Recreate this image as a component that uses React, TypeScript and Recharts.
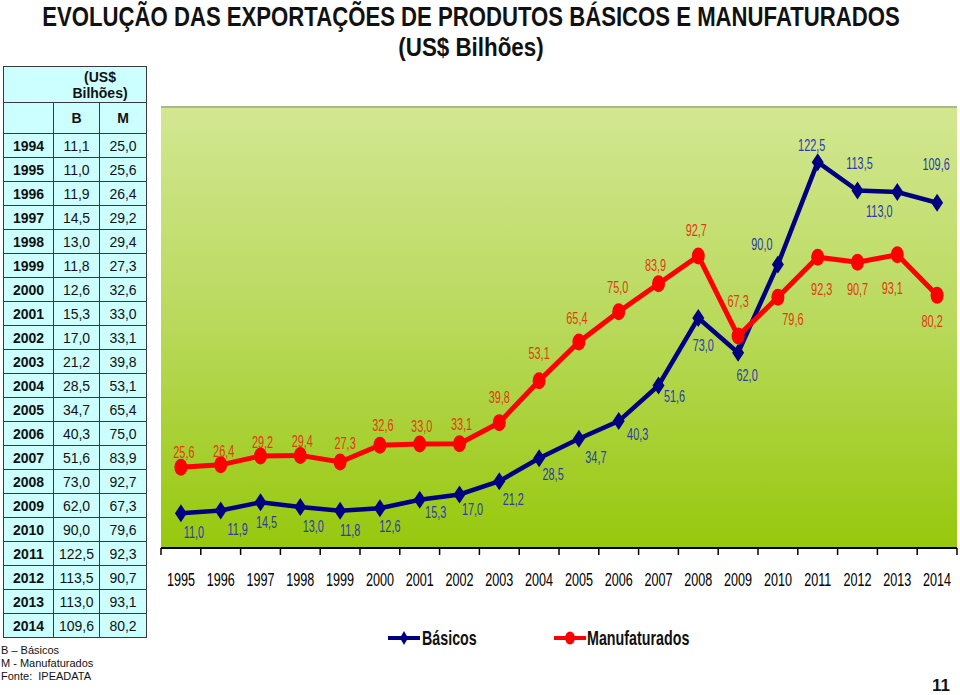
import React from "react";
import { CartesianGrid, LabelList, Line, LineChart, ReferenceLine, XAxis, YAxis } from "recharts";

// tabela completa (1994-2014); o gráfico usa 1995-2014
const tableYears = ["1994", "1995", "1996", "1997", "1998", "1999", "2000", "2001", "2002", "2003", "2004", "2005", "2006", "2007", "2008", "2009", "2010", "2011", "2012", "2013", "2014"];
const basicos = [11.1, 11.0, 11.9, 14.5, 13.0, 11.8, 12.6, 15.3, 17.0, 21.2, 28.5, 34.7, 40.3, 51.6, 73.0, 62.0, 90.0, 122.5, 113.5, 113.0, 109.6];
const manufaturados = [25.0, 25.6, 26.4, 29.2, 29.4, 27.3, 32.6, 33.0, 33.1, 39.8, 53.1, 65.4, 75.0, 83.9, 92.7, 67.3, 79.6, 92.3, 90.7, 93.1, 80.2];

// deslocamento dos rótulos (dx, dy) em relação ao ponto
const basicosLabelOffset = [[13, 19], [17, 19], [6, 20], [13, 19], [10, 19], [10, 18], [16, 12], [13, 15], [14, 18], [14, 16], [17, 18], [19, 13], [16, 11], [5, 27], [9, 22], [-16, -20], [-6, -17], [2, -27], [-18, 19], [-1, -39]];
const manufLabelOffset = [[3, -15], [3, -14], [2, -14], [2, -14], [5, -19], [3, -20], [2, -18], [2, -20], [0, -26], [0, -28], [-2, -24], [-1, -25], [-3, -19], [-2, -26], [0, -35], [15, 22], [4, 32], [0, 27], [-5, 33], [-5, 26]];

const chartYears = tableYears.slice(1);
const chartData = chartYears.map((year, i) => ({
  idx: i,
  year,
  basicos: basicos[i + 1],
  manufaturados: manufaturados[i + 1]
}));

const boundaryTicks = [-0.5, ...chartYears.map((_, i) => i + 0.5)];
const centerTicks = chartYears.map((_, i) => i);

const NARROW = '"Liberation Sans Narrow", "Arial Narrow", "Liberation Sans", Arial, sans-serif';
const SANS = '"Liberation Sans", Arial, sans-serif';
const BLUE = "#000080";
const RED = "#ff0000";

const fmt = (v: number) => v.toFixed(1).replace(".", ",");

const Diamond = (props: any) => {
  const { cx, cy } = props;
  if (cx == null || cy == null) return null;
  return <polygon fill={BLUE} points={`${cx},${cy - 9} ${cx + 6},${cy} ${cx},${cy + 9} ${cx - 6},${cy}`} />;
};

const Blob = (props: any) => {
  const { cx, cy } = props;
  if (cx == null || cy == null) return null;
  return <ellipse cx={cx} cy={cy} fill={RED} rx={6.5} ry={8.5} />;
};

const makeLabel = (offsets: number[][], color: string) => (props: any) => {
  const { x, y, value, index } = props;
  if (x == null || y == null) return null;
  const [dx, dy] = offsets[index] || [0, -15];
  return (
    <text
      dominantBaseline="central"
      fill={color}
      fontFamily={NARROW}
      fontSize={17}
      textAnchor="middle"
      transform={`translate(${x + dx},${y + dy}) scale(0.64,1)`}
    >
      {fmt(value)}
    </text>
  );
};

const YearTick = (props: any) => {
  const { x, y, payload } = props;
  return (
    <text
      fill="#000"
      fontFamily={NARROW}
      fontSize={18}
      textAnchor="middle"
      transform={`translate(${x},${y}) scale(0.7,1)`}
      y={22}
    >
      {chartYears[payload.value]}
    </text>
  );
};

const EmptyTick = () => <g />;

const cell: React.CSSProperties = {
  border: "1px solid #3a3a3a",
  padding: 0,
  textAlign: "center",
  height: 23
};

const App: React.FC = () => {
  return (
    <div
      style={{
        position: "absolute",
        left: 0,
        top: 0,
        width: 960,
        height: 695,
        background: "#fff",
        overflow: "hidden"
      }}
    >
      <div
        style={{
          position: "absolute",
          left: 471,
          top: 2,
          fontFamily: NARROW,
          fontWeight: "bold",
          fontSize: 27,
          lineHeight: "30px",
          color: "#111",
          whiteSpace: "nowrap",
          transform: "translateX(-50%) scale(0.82,1)"
        }}
      >
        EVOLUÇÃO DAS EXPORTAÇÕES DE PRODUTOS BÁSICOS E MANUFATURADOS
      </div>
      <div
        style={{
          position: "absolute",
          left: 471,
          top: 32,
          fontFamily: NARROW,
          fontWeight: "bold",
          fontSize: 26,
          lineHeight: "30px",
          color: "#111",
          whiteSpace: "nowrap",
          transform: "translateX(-50%) scale(0.86,1)"
        }}
      >
        (US$ Bilhões)
      </div>

      <table
        style={{
          position: "absolute",
          left: 3,
          top: 66,
          borderCollapse: "collapse",
          background: "#ccffff",
          fontFamily: SANS,
          fontSize: 14,
          color: "#111"
        }}
      >
        <tbody>
          <tr>
            <td colSpan={3} style={{ ...cell, height: 35, paddingLeft: 50, fontWeight: "bold", lineHeight: "16px" }}>
              (US$
              <br />
              Bilhões)
            </td>
          </tr>
          <tr>
            <td style={{ ...cell, width: 49, height: 30 }} />
            <td style={{ ...cell, width: 45, height: 30, fontWeight: "bold" }}>B</td>
            <td style={{ ...cell, width: 46, height: 30, fontWeight: "bold" }}>M</td>
          </tr>
          {tableYears.map((year, i) => (
            <tr key={year}>
              <td style={{ ...cell, fontWeight: "bold" }}>{year}</td>
              <td style={cell}>{fmt(basicos[i])}</td>
              <td style={cell}>{fmt(manufaturados[i])}</td>
            </tr>
          ))}
        </tbody>
      </table>

      <div
        style={{
          position: "absolute",
          left: 1,
          top: 644,
          fontFamily: SANS,
          fontSize: 11,
          lineHeight: "13px",
          color: "#111"
        }}
      >
        <div>B – Básicos</div>
        <div>M - Manufaturados</div>
        <div>Fonte:&nbsp; IPEADATA</div>
      </div>

      <div style={{ position: "absolute", left: 0, top: 0 }}>
        <LineChart
          data={chartData}
          height={695}
          margin={{ top: 107, right: 3, bottom: 99, left: 161 }}
          width={960}
        >
          <defs>
            <linearGradient id="bg" x1="0" x2="0" y1="0" y2="1">
              <stop offset="0%" stopColor="#d3e792" />
              <stop offset="50%" stopColor="#b8d95a" />
              <stop offset="100%" stopColor="#97c80c" />
            </linearGradient>
          </defs>
          <CartesianGrid fill="url(#bg)" fillOpacity={1} horizontal={false} vertical={false} xAxisId="axis1" />
          <XAxis
            allowDataOverflow
            axisLine={{ stroke: "#000", strokeWidth: 2 }}
            dataKey="idx"
            domain={[-0.5, 19.5]}
            height={8}
            interval={0}
            tick={<EmptyTick />}
            tickLine={{ stroke: "#000", strokeWidth: 1.5 }}
            tickSize={7}
            ticks={boundaryTicks}
            type="number"
            xAxisId="axis1"
          />
          <XAxis
            allowDataOverflow
            axisLine={false}
            dataKey="idx"
            domain={[-0.5, 19.5]}
            height={40}
            interval={0}
            tick={<YearTick />}
            tickLine={false}
            ticks={centerTicks}
            type="number"
            xAxisId="axis2"
          />
          <YAxis domain={[0, 140]} hide type="number" />
          <ReferenceLine stroke="#a9b98e" strokeWidth={2} xAxisId="axis1" y={140} />
          <ReferenceLine stroke="#000" strokeWidth={2} xAxisId="axis1" y={0} />
          <Line
            activeDot={false}
            dataKey="basicos"
            dot={<Diamond />}
            isAnimationActive={false}
            stroke={BLUE}
            strokeWidth={4.5}
            type="linear"
            xAxisId="axis1"
          >
            <LabelList content={makeLabel(basicosLabelOffset, "#2b3ca8")} dataKey="basicos" />
          </Line>
          <Line
            activeDot={false}
            dataKey="manufaturados"
            dot={<Blob />}
            isAnimationActive={false}
            stroke={RED}
            strokeWidth={5}
            type="linear"
            xAxisId="axis1"
          >
            <LabelList content={makeLabel(manufLabelOffset, "#e03a10")} dataKey="manufaturados" />
          </Line>
        </LineChart>
      </div>

      {/* legenda */}
      <div style={{ position: "absolute", left: 388, top: 626, height: 24, width: 34 }}>
        <svg height={24} width={34}>
          <line stroke={BLUE} strokeWidth={4} x1={0} x2={32} y1={12} y2={12} />
          <polygon fill={BLUE} points="16,5 20,12 16,19 12,12" />
        </svg>
      </div>
      <div
        style={{
          position: "absolute",
          left: 422,
          top: 625,
          fontFamily: NARROW,
          fontWeight: "bold",
          fontSize: 21,
          lineHeight: "26px",
          transform: "scale(0.68,1)",
          transformOrigin: "left center",
          color: "#111",
          whiteSpace: "nowrap"
        }}
      >
        Básicos
      </div>
      <div style={{ position: "absolute", left: 554, top: 626, height: 24, width: 34 }}>
        <svg height={24} width={34}>
          <line stroke={RED} strokeWidth={4} x1={0} x2={32} y1={12} y2={12} />
          <ellipse cx={16} cy={12} fill={RED} rx={5} ry={6.5} />
        </svg>
      </div>
      <div
        style={{
          position: "absolute",
          left: 587,
          top: 625,
          fontFamily: NARROW,
          fontWeight: "bold",
          fontSize: 21,
          lineHeight: "26px",
          transform: "scale(0.68,1)",
          transformOrigin: "left center",
          color: "#111",
          whiteSpace: "nowrap"
        }}
      >
        Manufaturados
      </div>

      <div
        style={{
          position: "absolute",
          left: 932,
          top: 676,
          fontFamily: SANS,
          fontWeight: "bold",
          fontSize: 17,
          lineHeight: "19px",
          color: "#111"
        }}
      >
        11
      </div>
    </div>
  );
};

export default App;
